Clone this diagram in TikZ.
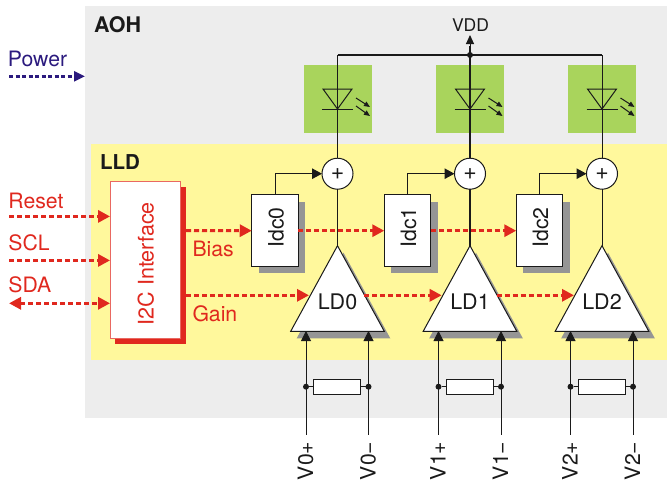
\documentclass[tikz,border=0pt]{standalone}
\usepackage{fontspec}
\setmainfont{TeX Gyre Heros}
\usetikzlibrary{arrows.meta}
\definecolor{aohgray}{HTML}{EDEDED}
\definecolor{lldyellow}{HTML}{FFF89C}
\definecolor{ledgreen}{HTML}{A9D45C}
\definecolor{sigred}{HTML}{E0281E}
\definecolor{pwrblue}{HTML}{2B1A7E}
\definecolor{shadowgray}{HTML}{959595}
\definecolor{inkblack}{HTML}{1A1A1A}
\tikzset{
  x=1pt,y=-1pt,
  every node/.style={font=\fontsize{21.2}{23}\selectfont,inner sep=0pt,outer sep=0pt},
  redtxt/.style={anchor=base west,text=sigred},
  wire/.style={draw=inkblack,line width=1pt},
  sigline/.style={draw=sigred,line width=3pt,dash pattern=on 5.2pt off 2.8pt,-{Triangle[length=12pt,width=12pt,fill=sigred]}},
  pwrline/.style={draw=pwrblue,line width=2.4pt,dash pattern=on 4pt off 2.5pt,-{Triangle[length=11pt,width=10pt,fill=pwrblue]}},
  inarrow/.style={wire,-{Triangle[length=10pt,width=10pt,fill=inkblack]}},
  sumarrow/.style={wire,-{Triangle[length=10pt,width=10.5pt,fill=inkblack]}},
  junction/.style={circle,fill=inkblack,minimum size=6pt},
  idcbox/.style={draw=inkblack,line width=1pt,fill=white,minimum width=46.5pt,minimum height=71.5pt},
  sumnode/.style={circle,draw=inkblack,line width=1pt,fill=white,minimum size=31pt},
  resbox/.style={draw=inkblack,line width=.9pt,fill=white,minimum width=47pt,minimum height=14.5pt},
  greenbox/.style={fill=ledgreen,minimum width=68pt,minimum height=68pt},
}
\begin{document}
\begin{tikzpicture}
\useasboundingbox (0,0) rectangle (667,483);
% regions
\fill[aohgray] (85,6) rectangle (667,418);
\fill[lldyellow] (91,144) rectangle (667,360);
\node[anchor=base west,font=\fontsize{21.5}{23}\selectfont\bfseries,text=inkblack] (aoh) at (94,32) {AOH};
\node[anchor=base west,font=\fontsize{20.5}{23}\selectfont\bfseries,text=inkblack] (lld) at (100,169) {LLD};
\node[anchor=base west,text=pwrblue] (power) at (8,66) {Power};
\coordinate (pwrS) at (9,76.3);
\coordinate (pwrE) at (85,76.3);
\draw[pwrline] (pwrS) -- (pwrE);
% VDD
\node[anchor=base,font=\fontsize{17.5}{20}\selectfont,text=inkblack] (vdd) at (470.5,31) {VDD};
\coordinate (vddtip) at (470,35);
\coordinate (railL) at (337.5,55);
\coordinate (railM) at (470,55);
\coordinate (railR) at (602,55);
\draw[wire,line width=1.3pt] (railL) -- (railR);
% columns
\foreach \i/\x/\w in {0/337.5/1,1/470/1.9,2/602/1}{
  \node[greenbox] (led\i) at (\x,99) {};
  \coordinate (rail\i) at (\x,55);
  \node[sumnode] (sum\i) at (\x,173.7) {};
  \coordinate (apex\i) at (\x,245.7);
  \coordinate (bl\i) at (\x-46.8,331.3);
  \coordinate (br\i) at (\x+46.8,331.3);
  % shadows
  \fill[shadowgray] (\x+6,252.7) -- ++(46.8,85.6) -- ++(-93.6,0) -- cycle;
  \node[idcbox,fill=shadowgray,draw=none] (idcs\i) at (\x-62.5+7,237.5) {};
  \node[idcbox] (idc\i) at (\x-62.5,230.7) {};
  \node[anchor=base,rotate=90,text=inkblack] (idct\i) at (\x-54,227.5) {Idc\i};
  % vertical wires
  \draw[wire,line width=\w pt] (rail\i) -- (sum\i.north);
  \draw[wire,line width=\w pt] (sum\i.south) -- (apex\i);
  \draw[sumarrow] (idc\i.north) |- (sum\i.west);
  % diode
  \coordinate (dl\i) at (\x-14.5,89);
  \coordinate (dr\i) at (\x+14.5,89);
  \coordinate (dk\i) at (\x,109);
  \coordinate (bl\i x) at (\x-15.5,109);
  \coordinate (br\i x) at (\x+15.5,109);
  \draw[wire] (dl\i) -- (dr\i) -- (dk\i) -- cycle;
  \draw[wire] (bl\i x) -- (br\i x);
  \coordinate (ra\i) at (\x+18.5,98);
  \coordinate (rb\i) at (\x+32.5,107);
  \coordinate (rc\i) at (\x+18.5,106);
  \coordinate (rd\i) at (\x+32.5,116);
  \draw[wire,-{Triangle[length=6pt,width=5pt,fill=inkblack]}] (ra\i) -- (rb\i);
  \draw[wire,-{Triangle[length=6pt,width=5pt,fill=inkblack]}] (rc\i) -- (rd\i);
  \node[font=\fontsize{23}{24}\selectfont,text=inkblack] (plus\i) at (\x,173.7) {+};
  % amplifier
  \draw[wire,fill=white] (apex\i) -- (br\i) -- (bl\i) -- cycle;
  \node[anchor=base,font=\fontsize{21.5}{23}\selectfont,text=inkblack] (ld\i) at (\x,309) {LD\i};
  % inputs
  \coordinate (ip\i) at (\x-31.5,331);
  \coordinate (im\i) at (\x+31,331);
  \coordinate (ips\i) at (\x-31.5,434.5);
  \coordinate (ims\i) at (\x+31,434.5);
  \draw[inarrow] (ips\i) -- (ip\i);
  \draw[inarrow] (ims\i) -- (im\i);
  \node[junction] (jp\i) at (\x-31.5,386.7) {};
  \node[junction] (jm\i) at (\x+31,386.7) {};
  \node[resbox] (res\i) at (\x-.2,386.7) {};
  \draw[wire] (jp\i) -- (res\i) -- (jm\i);
  \node[anchor=base west,rotate=90,text=inkblack] (vp\i) at (\x-24.5,480) {V\i+};
  \node[anchor=base west,rotate=90,text=inkblack] (vm\i) at (\x+38,480) {V\i−};
}
\draw[wire,line width=1.9pt] (railM) -- (470,46);
\draw[wire,-{Triangle[length=9pt,width=8pt,fill=inkblack]}] (railM) -- (vddtip);
\node[junction] (jvdd) at (railM) {};
% I2C
\node[fill=sigred,minimum width=70.5pt,minimum height=157.3pt] (i2cs) at (150.5,265.8) {};
\node[draw=sigred!70!white,line width=1pt,fill=white,minimum width=70.5pt,minimum height=157.3pt] (i2c) at (145.3,260.3) {};
\node[anchor=base,rotate=90,font=\fontsize{21.5}{23}\selectfont,text=sigred] (i2ct) at (153.7,263.7) {I2C Interface};
% red labels
\node[redtxt] (reset) at (8.5,208) {Reset};
\node[redtxt] (scl) at (8.5,250) {SCL};
\node[redtxt] (sda) at (8.5,292.7) {SDA};
\node[redtxt] (bias) at (192.5,256) {Bias};
\node[redtxt] (gain) at (192.5,321.7) {Gain};
% red signals
\coordinate (rs) at (9,216.4);
\coordinate (ss) at (9,260.4);
\coordinate (ds) at (9,303.3);
\draw[sigline] (rs) -- (rs -| i2c.west);
\draw[sigline] (ss) -- (ss -| i2c.west);
\draw[sigline,{Triangle[length=12pt,width=12pt,fill=sigred]}-{Triangle[length=12pt,width=12pt,fill=sigred]}] (ds) -- (ds -| i2c.west);
\coordinate (bs) at (186,230.5);
\coordinate (gs) at (186,295.3);
\coordinate (gt0) at (309,295.3);
\coordinate (gf0) at (364,295.3);
\coordinate (gt1) at (441.7,295.3);
\coordinate (gf1) at (496.5,295.3);
\coordinate (gt2) at (574,295.3);
\draw[sigline] (bs) -- (idc0.west);
\draw[sigline] (idc0.east) -- (idc1.west);
\draw[sigline] (idc1.east) -- (idc2.west);
\draw[sigline] (gs) -- (gt0);
\draw[sigline] (gf0) -- (gt1);
\draw[sigline] (gf1) -- (gt2);
\end{tikzpicture}
\end{document}
